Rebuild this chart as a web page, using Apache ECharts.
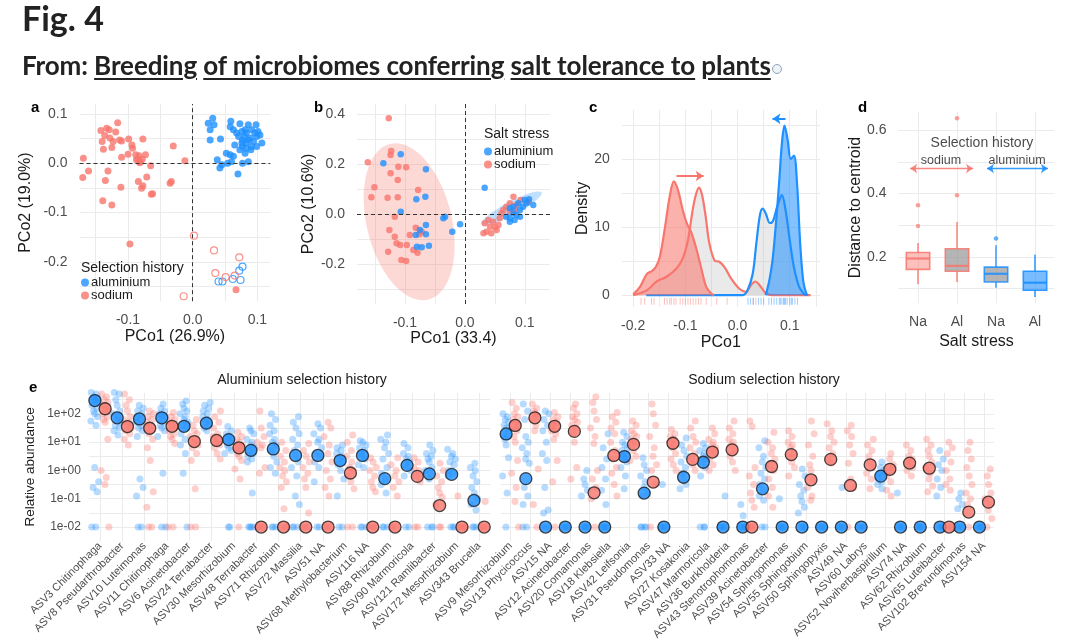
<!DOCTYPE html>
<html>
<head>
<meta charset="utf-8">
<script src="https://cdn.jsdelivr.net/npm/echarts@6/dist/echarts.min.js"></script>
<style>
html, body { margin: 0; padding: 0; background: #fff; }
#chart { position: absolute; left: 0; top: 0; width: 1080px; height: 639px; }
.hdr { position: absolute; left: 22px; font-family: Lato, "Open Sans", sans-serif; font-weight: bold; color: #222; white-space: nowrap; }
.hdr u { text-decoration-thickness: 2px; text-underline-offset: 3px; }
.ico { display: inline-block; width: 8px; height: 8px; border-radius: 50%; border: 1px solid #8fa3bf; background: #eef3f8; margin-left: 1px; vertical-align: 1px; }
</style>
</head>
<body>
<div id="chart"></div>
<div class="hdr" style="top:-3px;font-size:34px;">Fig. 4</div>
<div class="hdr" style="top:49px;font-size:26px;letter-spacing:-0.1px;">From: <u>Breeding</u> <u>of microbiomes conferring</u> <u>salt tolerance to</u> <u>plants</u><span class="ico"></span></div>
<script>
// ---- panel a : PCoA, selection history ----
const aAluminium = [[0.024,0.081],[0.031,0.091],[0.033,0.078],[0.027,0.068],[0.059,0.085],[0.058,0.074],[0.063,0.068],[0.073,0.080],[0.076,0.064],[0.086,0.078],[0.098,0.078],[0.091,0.068],[0.083,0.061],[0.080,0.054],[0.071,0.054],[0.068,0.061],[0.077,0.047],[0.089,0.051],[0.099,0.054],[0.104,0.057],[0.107,0.041],[0.094,0.044],[0.083,0.041],[0.077,0.034],[0.065,0.037],[0.073,0.027],[0.081,0.020],[0.090,0.027],[0.099,0.034],[0.086,0.047],[0.091,0.034],[0.083,0.030],[0.027,0.047],[0.043,0.049],[0.052,0.020],[0.058,0.017],[0.063,0.014],[0.060,0.003],[0.054,0.000],[0.038,0.007],[0.045,-0.003],[0.042,-0.010],[0.077,0.000],[0.086,0.003],[0.070,-0.022],[0.081,0.068],[0.096,0.061],[0.076,0.041],[0.101,0.064]];
const aSodium = [[-0.169,0.010],[-0.161,-0.016],[-0.170,-0.029],[-0.142,0.066],[-0.133,0.071],[-0.129,0.068],[-0.136,0.056],[-0.128,0.051],[-0.140,0.044],[-0.123,0.044],[-0.113,0.047],[-0.119,0.063],[-0.116,0.082],[-0.125,0.032],[-0.138,0.028],[-0.110,0.045],[-0.099,0.049],[-0.094,0.037],[-0.093,0.030],[-0.077,0.049],[-0.110,0.012],[-0.100,0.018],[-0.088,0.017],[-0.083,0.015],[-0.087,0.007],[-0.081,0.003],[-0.073,0.017],[-0.078,0.008],[-0.085,0.008],[-0.082,0.001],[-0.131,-0.016],[-0.135,-0.035],[-0.111,-0.049],[-0.084,-0.037],[-0.077,-0.046],[-0.079,-0.051],[-0.071,-0.028],[-0.065,-0.005],[-0.062,-0.062],[-0.064,-0.063],[-0.139,-0.076],[-0.125,-0.085],[-0.033,-0.037],[-0.035,-0.041],[-0.030,0.035],[-0.012,0.005],[-0.097,-0.164],[0.067,-0.257]];
const aAluminiumOpen = [[0.077,-0.210],[0.072,-0.218],[0.074,-0.237],[0.062,-0.235],[0.040,-0.240],[0.046,-0.240]];
const aSodiumOpen = [[0.002,-0.147],[0.033,-0.177],[0.072,-0.191],[0.035,-0.223],[0.051,-0.231],[0.065,-0.228],[-0.014,-0.270]];

// ---- panel b : PCoA, salt stress ----
const bSodium = [[-0.127,0.383],[-0.162,0.207],[-0.123,0.252],[-0.124,0.236],[-0.098,0.187],[-0.151,0.107],[-0.156,0.067],[-0.129,0.065],[-0.112,0.067],[-0.124,0.163],[-0.112,0.136],[-0.111,0.189],[-0.078,0.096],[-0.117,-0.011],[-0.126,-0.064],[-0.117,-0.091],[-0.114,-0.117],[-0.108,-0.124],[-0.097,-0.124],[-0.092,-0.084],[-0.082,-0.055],[-0.076,-0.081],[-0.086,-0.144],[-0.079,-0.155],[-0.128,-0.151],[-0.106,-0.184],[-0.098,-0.188],[-0.072,-0.071],[0.033,-0.037],[0.039,-0.024],[0.042,-0.051],[0.036,-0.071],[0.044,-0.077],[0.050,-0.053],[0.056,-0.044],[0.047,-0.031],[0.058,-0.017],[0.064,0.016],[0.069,0.029],[0.075,0.043],[0.081,0.069],[0.086,0.036],[0.093,0.056],[0.083,0.016],[0.075,0.009],[0.061,0.003],[0.053,-0.064],[0.031,-0.077],[0.106,0.049]];
const bAluminium = [[-0.107,0.239],[-0.136,0.203],[-0.065,0.179],[-0.081,0.059],[-0.066,0.069],[-0.107,0.009],[-0.033,-0.011],[-0.036,-0.017],[-0.008,-0.041],[-0.021,-0.071],[-0.065,-0.044],[-0.082,-0.084],[-0.075,-0.064],[-0.065,-0.081],[-0.080,-0.131],[-0.072,-0.133],[-0.060,-0.127],[0.033,0.105],[0.069,-0.011],[0.075,-0.017],[0.081,0.003],[0.086,-0.004],[0.092,0.016],[0.097,0.029],[0.103,0.043],[0.107,0.059],[0.100,0.056],[0.089,0.043],[0.081,0.029],[0.075,0.023],[0.083,-0.024],[0.075,-0.031],[0.092,-0.011],[0.114,0.036]];
// ellipse: centre x, centre y, semi-axis u (x, y), semi-axis v (x, y)
const bEllipseSodium = [-0.093, -0.031, -0.024, 0.314, 0.072, 0.006];
const bEllipseAluminium = [0.078, 0.023, 0.050, 0.063, 0.005, -0.024];

// ---- panel c : density of PCo1 ----
const cNaLine = [[-0.2,0],[-0.174,0.7],[-0.155,2.0],[-0.136,2.7],[-0.117,3.9],[-0.105,5.4],[-0.095,8.1],[-0.086,12.5],[-0.080,14.7],[-0.074,15.8],[-0.068,14.7],[-0.061,11.5],[-0.054,7.6],[-0.044,5.1],[-0.035,4.9],[-0.025,4.1],[-0.012,2.4],[0.004,0.9],[0.016,0.5],[0.026,1.5],[0.034,2.0],[0.042,1.5],[0.054,0.3],[0.067,0],[0.14,0]];
const cAlLine = [[-0.175,0],[0.0,0],[0.010,0],[0.019,0.7],[0.029,3.1],[0.036,7.6],[0.043,11.8],[0.048,12.7],[0.054,12.0],[0.062,10.6],[0.068,10.9],[0.076,13.0],[0.085,14.7],[0.092,12.5],[0.100,8.1],[0.108,4.1],[0.118,1.2],[0.127,0.2],[0.132,0]];
const cNaFill = [[-0.2,0.1],[-0.187,1.2],[-0.174,3.1],[-0.165,3.5],[-0.157,4.1],[-0.149,5.6],[-0.139,10.0],[-0.130,14.5],[-0.122,16.7],[-0.114,15.4],[-0.105,12.5],[-0.097,10.5],[-0.089,9.3],[-0.080,7.1],[-0.070,4.1],[-0.060,1.2],[-0.050,0.2],[-0.045,0]];
const cAlFill = [[0.054,0],[0.061,2.2],[0.067,5.1],[0.073,10.0],[0.080,16.9],[0.085,22.3],[0.090,24.9],[0.096,22.8],[0.102,20.0],[0.108,20.5],[0.114,16.4],[0.120,7.6],[0.126,2.0],[0.132,0.2],[0.135,0]];
const cRugNa = [-0.185,-0.178,-0.165,-0.160,-0.140,-0.135,-0.130,-0.127,-0.122,-0.118,-0.110,-0.105,-0.100,-0.095,-0.090,-0.085,-0.080,-0.075,-0.070,-0.060,-0.040,-0.020,0.030,0.035];
const cRugAl = [0.020,0.025,0.030,0.040,0.045,0.050,0.060,0.065,0.070,0.075,0.080,0.082,0.085,0.088,0.090,0.092,0.095,0.100,0.103,0.105,0.110,0.115];
const cArrowNa = [[-0.117,17.5],[-0.065,17.5]];
const cArrowAl = [[0.092,25.9],[0.067,25.9]];

// ---- panel d : distance to centroid ----
const dCats = ['Na', 'Al', 'Na', 'Al'];
// low whisker, Q1, median, Q3, high whisker
const dBoxes = [[0.114,0.161,0.195,0.214,0.244],[0.121,0.155,0.172,0.226,0.310],[0.103,0.121,0.147,0.168,0.237],[0.074,0.095,0.119,0.155,0.207]];
const dOutliers = [[0,0.363],[0,0.298],[1,0.395],[1,0.637],[2,0.258]];
const dArrowNa = [[-0.2,0.479],[1.41,0.479]];
const dArrowAl = [[1.77,0.479],[3.33,0.479]];

// ---- panel e : relative abundance (log10) ----
const eAlNames = ['ASV3 Chitinophaga','ASV8 Pseudarthrobacter','ASV10 Luteimonas','ASV11 Chitinophaga','ASV6 Acinetobacter','ASV24 Terrabacter','ASV30 Mesorhizobium','ASV48 Terrabacter','ASV71 Rhizobium','ASV72 Massilia','ASV51 NA','ASV68 Methylobacterium','ASV116 NA','ASV88 Rhizobium','ASV90 Marmoricola','ASV121 Ramlibacter','ASV172 Mesorhizobium','ASV343 Brucella'];
const eNaNames = ['ASV9 Mesorhizobium','ASV13 Phycicoccus','ASV15 NA','ASV12 Acinetobacter','ASV20 Comamonas','ASV18 Klebsiella','ASV42 Leifsonia','ASV31 Pseudomonas','ASV33 NA','ASV27 Kosakonia','ASV47 Marmoricola','ASV36 Burkholderia','ASV43 Stenotrophomonas','ASV39 Acinetobacter','ASV54 Sphingomonas','ASV55 Sphingobium','ASV50 Sphingopyxis','ASV49 NA','ASV60 Labrys','ASV52 Noviherbaspirillum','ASV74 NA','ASV62 Rhizobium','ASV65 Luteibacter','ASV102 Brevundimonas','ASV154 NA'];
const eAlMeanBlue = [2.47,1.86,1.82,1.86,1.56,1.67,1.09,0.71,0.76,0.53,0.53,0.35,0.53,-0.29,0.18,-0.12,-0.14,-1.06];
const eAlMeanRed = [2.18,1.55,1.49,1.56,1.02,1.06,0.80,-2,-2,-2,-2,-0.09,-2,-2,-0.21,-1.24,-2,-2];
const eNaMeanBlue = [1.29,-0.29,-2,-2,-2,-2,0.49,-0.8,-2,-0.24,0.29,-2,-2,-0.65,-2,-2,-2,-2,-2,-0.2,-2,-2,-2,-2,-2];
const eNaMeanRed = [1.59,1.86,1.56,1.38,-0.79,0.53,0.92,-0.41,0.96,0.39,0.65,0.73,-2,0.14,0.56,-0.33,0.39,-0.53,0.2,0.04,0.26,0.08,-2,-1.47,-1.12];
const eAlBlue = [
  [2.75,2.7,2.6,2.55,2.5,2.45,2.4,2.3,2.2,2.1,2.0,1.9,1.75,1.6,0.1,-0.4,-0.6,-0.75,-2,-2],
  [2.75,2.7,2.5,2.3,2.1,2.0,1.9,1.8,1.7,1.6,1.5,1.4,1.25],
  [2.3,2.2,2.1,2.0,1.9,1.8,1.7,1.6,1.5,1.4,1.2,-0.3,-0.6,-0.9,-2,-2],
  [2.35,2.2,2.1,2.0,1.95,1.9,1.8,1.7,1.6,1.5,1.4,1.2,-0.1,-2,-2],
  [2.45,2.35,2.2,2.1,2.0,1.9,1.8,1.7,1.6,1.5,1.3,1.1,0.9,0.6,-0.1,-2],
  [2.4,2.3,2.2,2.1,2.0,1.9,1.8,1.7,1.6,1.5,1.4],
  [1.55,1.4,1.3,1.2,1.15,1.1,1.0,0.9,0.8,0.7,0.6,-2,-2],
  [1.5,1.4,1.3,1.1,1.0,0.9,0.8,0.7,0.6,0.5,0.4,0.3,-0.8,-2,-2,-2,-2],
  [2.0,1.8,1.6,1.4,1.3,1.1,1.0,0.9,0.7,0.5,0.3,0.1,-0.1,-2,-2,-2],
  [1.9,1.7,1.5,1.3,1.1,0.9,0.7,0.5,0.3,0.1,-0.2,-0.9,-1.2,-2,-2,-2],
  [1.65,1.5,1.3,1.1,1.0,0.8,0.6,0.5,0.3,0.1,-0.4,-2,-2],
  [0.9,0.8,0.7,0.6,0.5,0.4,0.3,0.2,0.0,-0.3,-0.9,-2,-2],
  [1.05,1.0,0.9,0.8,0.7,0.6,0.5,0.4,0.2,0.1,-2,-2,-2],
  [1.25,1.1,1.0,0.8,0.6,0.4,0.1,-0.1,-0.3,-0.5,-0.8,-2,-2,-2],
  [0.95,0.8,0.6,0.5,0.4,0.3,0.2,0.1,0.0,-0.2,-2,-2],
  [0.9,0.7,0.6,0.5,0.4,0.3,0.1,0.0,-0.1,-0.3,-2,-2,-2],
  [0.75,0.6,0.5,0.4,0.3,0.2,0.0,-0.1,-0.2,-2,-2,-2],
  [0.25,0.1,0.0,-0.2,-0.4,-0.6,-0.8,-1.0,-1.2,-1.4,-2,-2,-2]
];
const eAlRed = [
  [2.7,2.6,2.5,2.4,2.3,2.2,2.1,2.0,1.9,1.8,1.7,1.1,0.0,-0.25,-0.5,-2],
  [2.7,2.5,2.3,2.1,1.9,1.8,1.7,1.6,1.5,1.4,1.3,1.1,0.9],
  [2.1,2.0,1.9,1.8,1.7,1.6,1.5,1.4,1.3,1.1,0.8,0.35,-0.75,-1.3,-2,-2],
  [2.05,1.9,1.8,1.7,1.6,1.5,1.4,1.3,1.2,1.1,0.95,-2,-2],
  [1.8,1.6,1.4,1.3,1.2,1.1,1.0,0.9,0.8,0.6,0.35,-0.65,-2,-2],
  [2.1,1.9,1.7,1.5,1.3,1.2,1.1,1.0,0.9,0.8,0.6,0.4],
  [1.35,1.2,1.1,1.0,0.9,0.8,0.7,0.6,0.5,0.35,0.05,-0.3,-2],
  [2.1,1.5,1.2,1.0,0.9,0.8,0.1,-0.1,-2,-2,-2,-2],
  [1.0,0.7,0.5,0.3,0.1,0.0,-0.2,-0.4,-0.6,-1.35,-2,-2,-2],
  [0.95,0.7,0.5,0.3,0.1,-0.1,-0.3,-0.6,-1.5,-2,-2,-2],
  [1.7,1.5,1.2,0.9,0.6,0.3,0.0,-0.3,-0.6,-0.9,-2,-2,-2],
  [1.25,1.0,0.7,0.5,0.3,0.1,0.0,-0.2,-0.4,-0.65,-2,-2],
  [0.45,0.3,0.1,0.0,-0.2,-0.4,-0.6,-0.75,-2,-2,-2],
  [0.45,0.2,0.0,-0.2,-0.4,-0.6,-0.9,-2,-2,-2],
  [0.45,0.3,0.1,0.0,-0.2,-0.4,-2,-2],
  [0.25,0.0,-0.2,-0.4,-0.6,-0.8,-0.95,-1.2,-2,-2],
  [-0.9,-2,-2,-2,-2],
  [-1.1,-2,-2,-2]
];
const eNaBlue = [
  [2.0,1.9,1.8,1.7,1.6,1.5,1.4,1.3,1.2,1.1,0.9,0.45,-0.2,-0.8,-2],
  [2.35,2.1,1.8,1.2,1.0,0.8,0.6,0.4,0.25,-0.6,-0.9,-1.2,-2,-2],
  [2.1,2.0,1.8,1.6,1.4,1.0,0.6,0.35,-0.6,-1.4,-1.5,-2,-2,-2],
  [-2,-2,-2,-2],
  [0.0,-0.3,-0.5,-0.7,-0.9,-2,-2,-2,-2],
  [1.3,0.8,0.4,0.1,-0.3,-0.7,-1.2,-2,-2,-2,-2],
  [1.35,1.2,1.0,0.9,0.8,0.7,0.6,0.5,0.4,0.3,0.1,-0.2,-0.65],
  [0.45,0.2,0.0,-0.2,-0.4,-0.6,-0.8,-0.9,-2,-2,-2,-2],
  [-0.5,-2,-2,-2,-2],
  [1.15,0.9,0.7,0.5,0.3,0.1,-0.1,-0.3,-0.5,-0.65],
  [0.95,0.8,0.7,0.6,0.5,0.4,0.3,0.1,-0.2,-2,-2,-2],
  [-0.9,-2,-2,-2,-2],
  [-1.2,-1.6,-2,-2,-2,-2],
  [1.05,0.8,0.5,0.3,0.1,-0.1,-0.3,-0.5,-0.7,-0.9,-1.05,-2,-2],
  [-1.0,-2,-2,-2,-2],
  [0.05,-0.2,-0.5,-0.7,-0.9,-1.1,-1.3,-1.5,-2,-2,-2],
  [-2,-2,-2,-2],
  [-0.6,-2,-2,-2,-2],
  [-2,-2,-2,-2],
  [0.3,0.1,0.0,-0.1,-0.2,-0.3,-0.4,-0.5,-0.65],
  [-0.8,-2,-2,-2,-2],
  [-2,-2,-2,-2],
  [0.7,0.4,0.2,0.0,-0.3,-0.6,-0.9,-2,-2,-2],
  [-0.8,-1.0,-1.2,-1.35,-2,-2,-2],
  [-2,-2,-2,-2]
];
const eNaRed = [
  [2.4,2.2,2.0,1.9,1.8,1.7,1.6,1.5,1.4,1.2,1.0,0.35,-0.1,-0.6,-1.1,-2],
  [2.35,2.2,2.1,2.0,1.9,1.8,1.6,1.4,0.05,-1.2,-2],
  [2.05,1.9,1.8,1.7,1.6,1.5,1.4,1.3,1.1,0.35,-0.4,-2],
  [2.35,2.2,2.0,1.9,1.8,1.7,1.6,1.5,1.3,1.0,0.1,-0.3],
  [2.6,2.4,2.1,1.8,1.5,1.2,0.95,0.0,-0.3,-0.6,-1.0,-2],
  [2.05,1.9,1.7,1.5,1.3,1.0,0.7,0.4,0.1,-0.1,-0.5,-0.9],
  [1.75,1.6,1.4,1.3,1.2,1.1,1.0,0.9,0.7,0.5,0.35],
  [2.35,2.0,1.6,1.2,0.8,0.5,0.2,0.0,-0.5,-2],
  [1.45,1.3,1.2,1.1,1.0,0.9,0.8,0.6,0.4,0.2,0.0],
  [1.75,1.5,1.2,1.0,0.8,0.6,0.4,0.2,0.0],
  [1.5,1.3,1.1,1.0,0.9,0.8,0.7,0.6,0.4,0.2,0.0],
  [1.75,1.5,1.3,1.1,1.0,0.9,0.7,0.5,0.3,0.0],
  [1.75,1.55,0.1,-0.2,-0.5,-0.8,-1.05,-1.3,-2,-2,-2],
  [1.35,1.0,0.8,0.6,0.4,0.2,0.0,-0.3,-0.6,-0.9,-1.3],
  [1.4,1.2,1.0,0.9,0.8,0.6,0.5,0.3,0.1,-0.2],
  [1.75,1.3,0.9,0.5,0.2,0.0,-0.3,-0.6,-0.9,-1.05],
  [1.65,1.4,1.2,1.0,0.8,0.6,0.4,0.25],
  [1.6,1.4,1.2,0.9,0.6,0.25,-0.3,-0.6,-2],
  [1.1,0.9,0.7,0.5,0.3,0.1,-0.1,-0.3,-0.65],
  [0.6,0.4,0.2,0.1,0.0,-0.2,-0.4,-0.7,-0.9],
  [0.9,0.7,0.5,0.4,0.3,0.2,0.1,0.0,-0.2],
  [1.1,0.9,0.7,0.5,0.3,0.1,-0.1,-0.3,-0.55,-0.75],
  [1.0,0.8,0.6,0.3,0.0,-0.3,-0.5,-0.7,-2,-2],
  [1.0,0.7,0.4,0.1,-0.2,-0.5,-0.8,-1.0,-1.2,-2],
  [0.05,-0.2,-0.5,-0.8,-1.0,-1.2,-1.4,-1.7,-2]
];

// ---- styling ----
const SALMON = '#F8766D', BLUE = '#1E90FF';
const TICK = '#4d4d4d', INK = '#1a1a1a', GRIDC = '#ebebeb';
const FONT = '"Liberation Sans", Arial, sans-serif';
// horizontal spread of the dodged points in panel e (category units)
const JIT = [-0.16,0.06,-0.04,0.13,-0.1,0.02,0.16,-0.13,0.09,-0.06,0.0,0.12,-0.18,0.05,-0.01,0.17,-0.08,0.1,-0.14,0.04];

function stepLabel(step, dec) {
  return function (v) {
    const r = Math.round(v / step);
    return Math.abs(v - r * step) < 1e-7 ? (r * step).toFixed(dec) : '';
  };
}
function valueAxis(grid, min, max, split, step, dec, name, gap, margin) {
  return {
    type: 'value', gridIndex: grid, min: min, max: max, splitNumber: split,
    name: name, nameLocation: 'middle', nameGap: gap,
    nameTextStyle: { fontSize: 16, color: INK, fontFamily: FONT },
    axisLine: { show: false }, axisTick: { show: false },
    splitLine: { show: true, showMinLine: false, showMaxLine: false, lineStyle: { color: GRIDC, width: 1 } },
    axisLabel: { color: TICK, fontSize: 14, fontFamily: FONT, margin: margin, formatter: stepLabel(step, dec) }
  };
}
function hiddenAxis(grid, n) {
  return { type: 'value', gridIndex: grid, min: -0.5, max: n - 0.5, show: false };
}
function catAxis(grid, names, rotate, fontSize, margin) {
  return {
    type: 'category', gridIndex: grid, data: names, boundaryGap: true,
    axisLine: { show: false }, axisTick: { show: false },
    splitLine: { show: true, interval: 0, alignWithLabel: true, lineStyle: { color: GRIDC, width: 1 } },
    axisLabel: { interval: 0, rotate: rotate, color: TICK, fontSize: fontSize, fontFamily: FONT, margin: margin }
  };
}
function logAxis(grid, showLabels) {
  return {
    type: 'value', gridIndex: grid, min: -2.5, max: 2.75, interval: 0.5,
    name: showLabels ? 'Relative abundance' : '', nameLocation: 'middle', nameGap: 52,
    nameTextStyle: { fontSize: 13.5, color: INK, fontFamily: FONT },
    axisLine: { show: false }, axisTick: { show: false },
    splitLine: { show: true, showMinLine: false, showMaxLine: false, lineStyle: { color: GRIDC, width: 1 } },
    axisLabel: {
      show: showLabels, color: TICK, fontSize: 12, fontFamily: FONT, margin: 8,
      formatter: function (v) {
        if (Math.abs(v - Math.round(v)) > 1e-7) return '';
        const e = Math.round(v);
        return '1e' + (e < 0 ? '-' : '+') + String(Math.abs(e)).padStart(2, '0');
      }
    }
  };
}
function ellipseSeries(xi, p, color) {
  return {
    type: 'custom', xAxisIndex: xi, yAxisIndex: xi, data: [[p[0], p[1]]], z: 1, silent: true,
    renderItem: function (params, api) {
      const pts = [];
      for (let k = 0; k < 72; k++) {
        const t = k / 72 * Math.PI * 2;
        pts.push(api.coord([p[0] + p[2] * Math.cos(t) + p[4] * Math.sin(t), p[1] + p[3] * Math.cos(t) + p[5] * Math.sin(t)]));
      }
      return { type: 'polygon', shape: { points: pts }, style: { fill: color } };
    }
  };
}
function cloud(groups, side) {
  const out = [];
  groups.forEach(function (vals, i) {
    vals.forEach(function (v, k) { out.push([i + side + JIT[(k + i * 7) % JIT.length], v]); });
  });
  return out;
}
function means(vals, side) { return vals.map(function (v, i) { return [i + side, v]; }); }
function ePanel(xi, yi, blue, red, mBlue, mRed) {
  const off = 0.23;
  return [
    { type: 'scatter', xAxisIndex: xi, yAxisIndex: yi, data: cloud(blue, -off), symbolSize: 7, itemStyle: { color: BLUE, opacity: 0.32 }, clip: false, z: 2 },
    { type: 'scatter', xAxisIndex: xi, yAxisIndex: yi, data: cloud(red, off), symbolSize: 7, itemStyle: { color: SALMON, opacity: 0.34 }, clip: false, z: 2 },
    { type: 'scatter', xAxisIndex: xi, yAxisIndex: yi, data: means(mBlue, -off), symbolSize: 12, itemStyle: { color: BLUE, borderColor: INK, borderWidth: 1.3 }, clip: false, z: 4 },
    { type: 'scatter', xAxisIndex: xi, yAxisIndex: yi, data: means(mRed, off), symbolSize: 12, itemStyle: { color: SALMON, borderColor: INK, borderWidth: 1.3 }, clip: false, z: 4 }
  ];
}
const zeroLines = {
  silent: true, symbol: 'none', label: { show: false },
  lineStyle: { color: '#333', type: [4, 3], width: 1 },
  data: [{ xAxis: 0 }, { yAxis: 0 }]
};
const dStyles = [
  { fill: 'rgba(248,118,109,0.45)', stroke: 'rgba(248,118,109,0.85)' },
  { fill: 'rgba(150,150,150,0.7)', stroke: 'rgba(248,118,109,0.85)' },
  { fill: 'rgba(150,150,150,0.7)', stroke: 'rgba(30,144,255,0.85)' },
  { fill: 'rgba(30,144,255,0.6)', stroke: 'rgba(30,144,255,0.9)' }
];
function panelTitle(t, x, y, size, weight, align) {
  return { text: t, left: x, top: y, textAlign: align || 'left', textStyle: { fontSize: size, fontWeight: weight, color: weight === 'bold' ? '#000' : INK, fontFamily: FONT } };
}
const legendBase = {
  orient: 'vertical', icon: 'circle', itemWidth: 8, itemHeight: 8, itemGap: 0, selectedMode: false,
  textStyle: { fontSize: 13, color: INK, fontFamily: FONT, lineHeight: 11, padding: [0, 0, 0, -3] },
  data: ['aluminium', 'sodium']
};

const chart = echarts.init(document.getElementById('chart'), null, { renderer: 'canvas' });
chart.setOption({
  animation: false,
  backgroundColor: 'transparent',
  textStyle: { fontFamily: FONT },
  title: [
    panelTitle('a', 26, 95, 15, 'bold'),
    panelTitle('b', 309, 95, 15, 'bold'),
    panelTitle('c', 584, 95, 15, 'bold'),
    panelTitle('d', 853, 95, 15, 'bold'),
    panelTitle('e', 24, 375, 15, 'bold'),
    panelTitle('Selection history', 76, 256, 14, 'normal'),
    panelTitle('Salt stress', 479, 122, 14, 'normal'),
    panelTitle('Aluminium selection history', 297, 368, 14, 'normal', 'center'),
    panelTitle('Sodium selection history', 759, 368, 14, 'normal', 'center')
  ],
  legend: [
    Object.assign({ left: 76, top: 271 }, legendBase),
    Object.assign({ left: 479, top: 140 }, legendBase)
  ],
  grid: [
    { left: 79.5, top: 104, width: 190.8, height: 197.2, outerBoundsMode: 'none' },
    { left: 357, top: 104, width: 193, height: 200, outerBoundsMode: 'none' },
    { left: 621.7, top: 110, width: 198.3, height: 196.7, outerBoundsMode: 'none' },
    { left: 898.5, top: 111.7, width: 156, height: 191.6, outerBoundsMode: 'none' },
    { left: 88.85, top: 392.6, width: 401.4, height: 148.6, outerBoundsMode: 'none' },
    { left: 500.8, top: 392.6, width: 493, height: 148.6, outerBoundsMode: 'none' }
  ],
  xAxis: [
    valueAxis(0, -0.175, 0.12, 6, 0.1, 1, 'PCo1 (26.9%)', 26, 12),
    valueAxis(1, -0.18, 0.142, 6, 0.1, 1, 'PCo1 (33.4)', 26, 12),
    valueAxis(2, -0.222, 0.158, 8, 0.1, 1, 'PCo1', 28, 12),
    Object.assign(catAxis(3, dCats, 0, 14, 12), { name: 'Salt stress', nameLocation: 'middle', nameGap: 30, nameTextStyle: { fontSize: 16, color: INK, fontFamily: FONT } }),
    hiddenAxis(3, dCats.length),
    catAxis(4, eAlNames, 45, 11, 3),
    hiddenAxis(4, eAlNames.length),
    catAxis(5, eNaNames, 45, 11, 3),
    hiddenAxis(5, eNaNames.length)
  ],
  yAxis: [
    valueAxis(0, -0.28, 0.12, 8, 0.1, 1, 'PCo2 (19.0%)', 46, 12),
    valueAxis(1, -0.36, 0.44, 8, 0.2, 1, 'PCo2 (10.6%)', 40, 12),
    valueAxis(2, -1.7, 27.2, 6, 10, 0, 'Density', 26, 12),
    valueAxis(3, 0.054, 0.658, 6, 0.2, 1, 'Distance to centroid', 34, 12),
    logAxis(4, true),
    logAxis(5, false)
  ],
  series: [
    // a
    { name: 'aluminium', type: 'scatter', xAxisIndex: 0, yAxisIndex: 0, data: aAluminium, symbolSize: 7, itemStyle: { color: BLUE }, markLine: zeroLines, z: 3 },
    { name: 'sodium', type: 'scatter', xAxisIndex: 0, yAxisIndex: 0, data: aSodium, symbolSize: 7, itemStyle: { color: SALMON }, z: 3 },
    { name: 'aluminium (open)', type: 'scatter', xAxisIndex: 0, yAxisIndex: 0, data: aAluminiumOpen, symbolSize: 7, itemStyle: { color: 'rgba(0,0,0,0)', borderColor: BLUE, borderWidth: 1.2 }, z: 3 },
    { name: 'sodium (open)', type: 'scatter', xAxisIndex: 0, yAxisIndex: 0, data: aSodiumOpen, symbolSize: 7, itemStyle: { color: 'rgba(0,0,0,0)', borderColor: SALMON, borderWidth: 1.2 }, z: 3 },
    // b
    ellipseSeries(1, bEllipseSodium, 'rgba(248,118,109,0.28)'),
    ellipseSeries(1, bEllipseAluminium, 'rgba(30,144,255,0.28)'),
    { name: 'sodium', type: 'scatter', xAxisIndex: 1, yAxisIndex: 1, data: bSodium, symbolSize: 6.5, itemStyle: { color: SALMON }, markLine: zeroLines, z: 3 },
    { name: 'aluminium', type: 'scatter', xAxisIndex: 1, yAxisIndex: 1, data: bAluminium, symbolSize: 6.5, itemStyle: { color: BLUE }, z: 3 },
    // c
    { type: 'line', xAxisIndex: 2, yAxisIndex: 2, data: cNaLine, smooth: 0.35, showSymbol: false, lineStyle: { color: SALMON, width: 2.2 }, areaStyle: { color: 'rgba(190,190,190,0.45)' }, z: 2 },
    { type: 'line', xAxisIndex: 2, yAxisIndex: 2, data: cAlLine, smooth: 0.35, showSymbol: false, lineStyle: { color: BLUE, width: 2.2 }, areaStyle: { color: 'rgba(190,190,190,0.45)' }, z: 2 },
    { type: 'line', xAxisIndex: 2, yAxisIndex: 2, data: cNaFill, smooth: 0.35, showSymbol: false, lineStyle: { color: SALMON, width: 2.2 }, areaStyle: { color: 'rgba(248,118,109,0.8)' }, z: 3 },
    { type: 'line', xAxisIndex: 2, yAxisIndex: 2, data: cAlFill, smooth: 0.35, showSymbol: false, lineStyle: { color: BLUE, width: 2.2 }, areaStyle: { color: 'rgba(30,144,255,0.78)' }, z: 3 },
    { type: 'scatter', xAxisIndex: 2, yAxisIndex: 2, data: cRugNa.map(function (x) { return [x, -0.9]; }), symbol: 'rect', symbolSize: [1, 7], itemStyle: { color: SALMON, opacity: 0.45 }, z: 2 },
    { type: 'scatter', xAxisIndex: 2, yAxisIndex: 2, data: cRugAl.map(function (x) { return [x, -0.9]; }), symbol: 'rect', symbolSize: [1, 7], itemStyle: { color: BLUE, opacity: 0.45 }, z: 2 },
    { type: 'lines', coordinateSystem: 'cartesian2d', xAxisIndex: 2, yAxisIndex: 2, symbol: ['none', 'arrow'], symbolSize: 8, lineStyle: { color: SALMON, width: 2, opacity: 1 }, data: [{ coords: cArrowNa }], z: 5 },
    { type: 'lines', coordinateSystem: 'cartesian2d', xAxisIndex: 2, yAxisIndex: 2, symbol: ['none', 'arrow'], symbolSize: 8, lineStyle: { color: BLUE, width: 2, opacity: 1 }, data: [{ coords: cArrowAl }], z: 5 },
    // d
    {
      type: 'custom', xAxisIndex: 4, yAxisIndex: 3, z: 3,
      data: dBoxes.map(function (b, i) { return [i].concat(b); }),
      renderItem: function (params, api) {
        const i = api.value(0);
        const lo = api.coord([i, api.value(1)]), q1 = api.coord([i, api.value(2)]);
        const md = api.coord([i, api.value(3)]), q3 = api.coord([i, api.value(4)]), hi = api.coord([i, api.value(5)]);
        const hw = api.size([0.3, 0])[0];
        const st = dStyles[i];
        return {
          type: 'group', children: [
            { type: 'line', shape: { x1: lo[0], y1: lo[1], x2: q1[0], y2: q1[1] }, style: { stroke: st.stroke, lineWidth: 1.6 } },
            { type: 'line', shape: { x1: q3[0], y1: q3[1], x2: hi[0], y2: hi[1] }, style: { stroke: st.stroke, lineWidth: 1.6 } },
            { type: 'rect', shape: { x: q3[0] - hw, y: q3[1], width: 2 * hw, height: q1[1] - q3[1] }, style: { fill: st.fill, stroke: st.stroke, lineWidth: 1.6 } },
            { type: 'line', shape: { x1: md[0] - hw, y1: md[1], x2: md[0] + hw, y2: md[1] }, style: { stroke: st.stroke, lineWidth: 2.2 } }
          ]
        };
      }
    },
    { type: 'scatter', xAxisIndex: 4, yAxisIndex: 3, data: dOutliers, symbolSize: 4.5, z: 3,
      itemStyle: { opacity: 0.7, color: function (p) { return p.value[0] < 2 ? SALMON : BLUE; } } },
    { type: 'lines', coordinateSystem: 'cartesian2d', xAxisIndex: 4, yAxisIndex: 3, symbol: ['arrow', 'arrow'], symbolSize: 7, lineStyle: { color: SALMON, width: 1.4, opacity: 0.85 }, data: [{ coords: dArrowNa }], z: 4 },
    { type: 'lines', coordinateSystem: 'cartesian2d', xAxisIndex: 4, yAxisIndex: 3, symbol: ['arrow', 'arrow'], symbolSize: 7, lineStyle: { color: BLUE, width: 1.4, opacity: 0.9 }, data: [{ coords: dArrowAl }], z: 4 },
    { type: 'scatter', xAxisIndex: 4, yAxisIndex: 3, symbolSize: 0, silent: true, z: 5,
      label: { show: true, position: 'inside', formatter: '{b}', color: INK, fontFamily: FONT },
      data: [
        { name: 'Selection history', value: [1.64, 0.559], label: { fontSize: 14 } },
        { name: 'sodium', value: [0.59, 0.505], label: { fontSize: 12.5 } },
        { name: 'aluminium', value: [2.54, 0.505], label: { fontSize: 12.5 } }
      ] }
  ]
    .concat(ePanel(6, 4, eAlBlue, eAlRed, eAlMeanBlue, eAlMeanRed))
    .concat(ePanel(8, 5, eNaBlue, eNaRed, eNaMeanBlue, eNaMeanRed))
});
</script>
</body>
</html>
